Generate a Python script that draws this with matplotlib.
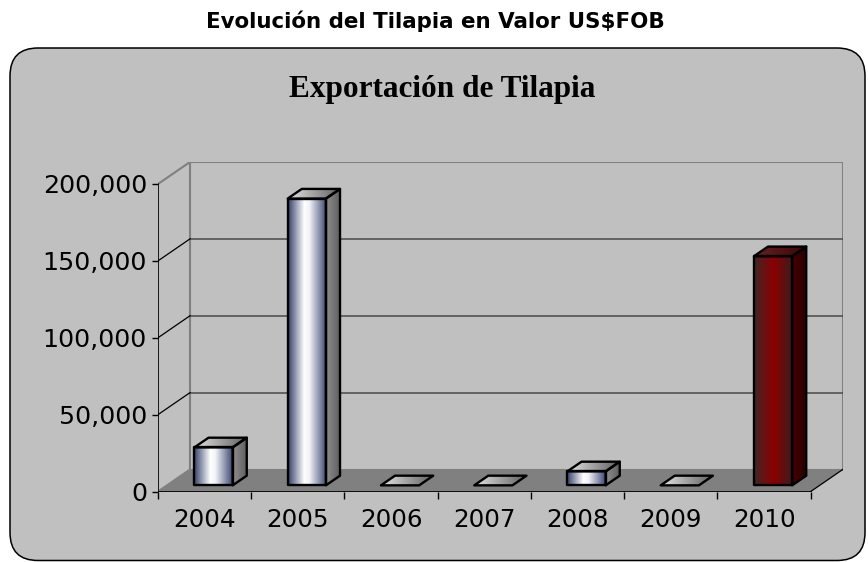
import numpy as np
import matplotlib
matplotlib.use('Agg')
import matplotlib.pyplot as plt
from matplotlib.patches import Polygon, FancyBboxPatch
from matplotlib.colors import LinearSegmentedColormap

# datos
anios = ['2004', '2005', '2006', '2007', '2008', '2009', '2010']
valores = [24700, 186500, 0, 0, 9100, 0, 149000]
yticks = [0, 50000, 100000, 150000, 200000]
titulo = 'Evolución del Tilapia en Valor US$FOB'
subtitulo = 'Exportación de Tilapia'

# efecto 3d (profundidad en unidades de categoria / valor)
DX = 0.343
DY = 14300
W = 0.205
D0, D1 = 0.28, 0.72

azul_frente = LinearSegmentedColormap.from_list('af', [(0, '#34406c'), (0.42, '#ffffff'), (0.55, '#f2f3f7'), (1, '#3a4672')])
azul_lado = LinearSegmentedColormap.from_list('al', ['#8e8e8e', '#5c5c5c'])
azul_tope = LinearSegmentedColormap.from_list('at', ['#e4e4e4', '#5e5e5e'])
rojo_frente = LinearSegmentedColormap.from_list('rf', [(0, '#3c2828'), (0.5, '#8c0000'), (1, '#3a1c1c')])
rojo_lado = LinearSegmentedColormap.from_list('rl', ['#4a0000', '#250000'])
rojo_tope = LinearSegmentedColormap.from_list('rt', ['#6a2222', '#3a0505'])


def p(x, y, d):
    return (x + d * DX, y + d * DY)


def cara(ax, verts, cmap, z):
    poly = Polygon(verts, closed=True, facecolor='none', edgecolor='black', lw=1.7, zorder=z + 0.5, joinstyle='round')
    ax.add_patch(poly)
    xs = [v[0] for v in verts]
    ys = [v[1] for v in verts]
    g = np.linspace(0, 1, 256).reshape(1, -1)
    im = ax.imshow(g, extent=[min(xs), max(xs), min(ys), max(ys)], cmap=cmap,
                   aspect='auto', interpolation='bilinear', zorder=z)
    im.set_clip_path(poly)


fig = plt.figure(figsize=(8.68, 5.62), dpi=100)

# marco redondeado
bg = fig.add_axes([0, 0, 1, 1])
bg.set_xlim(0, 868)
bg.set_ylim(562, 0)
bg.axis('off')
bg.add_patch(FancyBboxPatch((10, 48), 855, 512.5, boxstyle='round,pad=0,rounding_size=28',
                            facecolor='#c0c0c0', edgecolor='black', lw=1.1))

fig.text(435 / 868, 1 - 21 / 562, titulo, ha='center', va='center',
         fontsize=15.4, fontweight='bold', family='DejaVu Sans')
fig.text(442 / 868, 1 - 89 / 562, subtitulo, ha='center', va='center',
         fontsize=22.5, fontweight='bold', family='Liberation Serif')

ax = fig.add_axes([158 / 868, (562 - 491.5) / 562, (842.7 - 158) / 868, (491.5 - 162) / 562])
ax.patch.set_visible(False)
for s in ax.spines.values():
    s.set_visible(False)

n = len(anios)
x0, x1 = -0.5, n - 0.5
ymax = yticks[-1]

# pared del fondo, pared lateral y piso
ax.add_patch(Polygon([p(x0, 0, 1), p(x1, 0, 1), p(x1, ymax, 1), p(x0, ymax, 1)],
                     facecolor='#c0c0c0', edgecolor='#808080', lw=1.5, zorder=1))
ax.add_patch(Polygon([p(x0, 0, 0), p(x0, 0, 1), p(x0, ymax, 1), p(x0, ymax, 0)],
                     facecolor='#c0c0c0', edgecolor='#808080', lw=1.5, zorder=1))
ax.add_patch(Polygon([p(x0, 0, 0), p(x1, 0, 0), p(x1, 0, 1), p(x0, 0, 1)],
                     facecolor='#808080', edgecolor='none', zorder=1.2))
for v in yticks[1:-1]:
    a, b = p(x0, v, 1), p(x1, v, 1)
    ax.plot([a[0], b[0]], [a[1], b[1]], color='#4a4a4a', lw=1.1, zorder=1.5)
    c = p(x0, v, 0)
    ax.plot([c[0], a[0]], [c[1], a[1]], color='black', lw=0.9, zorder=1.5)
# ejes frontales
ax.plot([x0, x1], [0, 0], color='black', lw=1.3, zorder=2)
ax.plot([x0, x0], [0, ymax], color='black', lw=1.1, zorder=2)
a, b = p(x1, 0, 0), p(x1, 0, 1)
ax.plot([a[0], b[0]], [a[1], b[1]], color='black', lw=0.9, zorder=2)

# barras
for i, v in enumerate(valores):
    rojo = anios[i] == '2010'
    cf = rojo_frente if rojo else azul_frente
    cl = rojo_lado if rojo else azul_lado
    ct = rojo_tope if rojo else azul_tope
    z = 3 + i
    if v > 0:
        cara(ax, [p(i + W, 0, D0), p(i + W, 0, D1), p(i + W, v, D1), p(i + W, v, D0)], cl, z)
        cara(ax, [p(i - W, 0, D0), p(i + W, 0, D0), p(i + W, v, D0), p(i - W, v, D0)], cf, z + 0.1)
    cara(ax, [p(i - W, v, D0), p(i + W, v, D0), p(i + W, v, D1), p(i - W, v, D1)], ct, z + 0.2)

ax.set_xlim(x0, x1 + DX)
ax.set_ylim(0, ymax + DY)

ax.set_yticks(yticks)
ax.set_yticklabels(['{:,}'.format(t) for t in yticks])
ax.set_xticks(range(n))
ax.set_xticklabels(anios)
ax.set_xticks(np.arange(x0, x1 + 0.01, 1), minor=True)
ax.tick_params(axis='x', which='major', length=0, pad=12, labelsize=17.7)
ax.tick_params(axis='x', which='minor', length=5, width=1, direction='out')
ax.tick_params(axis='y', which='major', length=4.5, width=1, direction='out', pad=3.5, labelsize=18.3)

fig.savefig('out.png', dpi=100)
